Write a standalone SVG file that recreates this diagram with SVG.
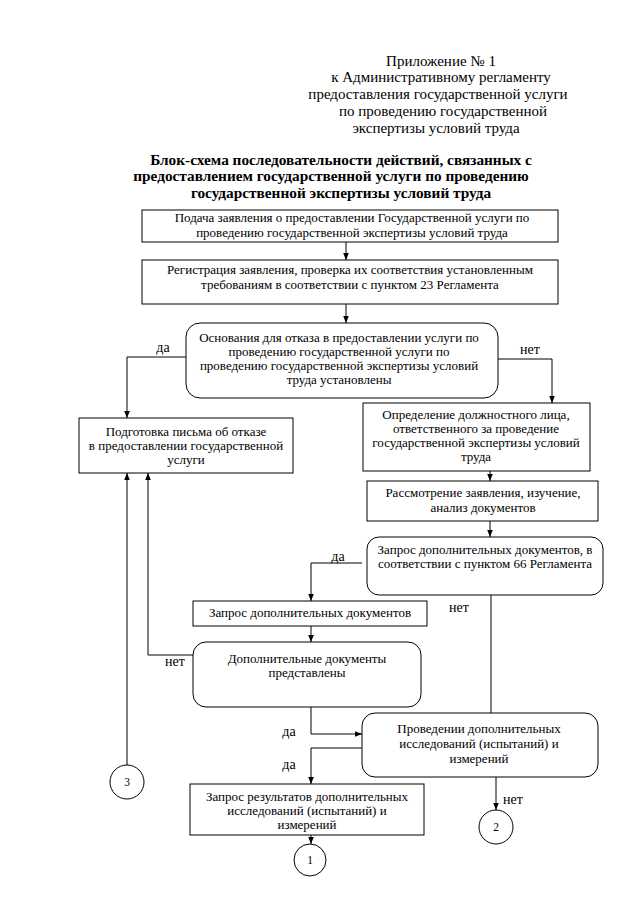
<svg xmlns="http://www.w3.org/2000/svg" width="640" height="905" viewBox="0 0 640 905" font-family="Liberation Serif, DejaVu Serif, serif">
<defs>
<style>
.b{fill:#fff;stroke:#000;stroke-width:1}
.c{fill:none;stroke:#000;stroke-width:1}
text{font-family:'Liberation Serif','DejaVu Serif',serif;fill:#000;text-anchor:middle}
.t{font-size:13px}
.h{font-size:15px}
.ti{font-size:15.3px;font-weight:bold}
.l{font-size:14px}
.n{font-size:11.5px}
</style>
<marker id="a" viewBox="0 0 8 8" refX="8" refY="4" markerWidth="7" markerHeight="7" markerUnits="userSpaceOnUse" orient="auto">
<path d="M0,0.8 L8,4 L0,7.2 Z" fill="#000"/>
</marker>
</defs>
<rect width="640" height="905" fill="#fff"/>
<g id="header">
<text class="h" x="441" y="66">Приложение № 1</text>
<text class="h" x="441" y="82">к Административному регламенту</text>
<text class="h" x="438" y="99">предоставления государственной услуги</text>
<text class="h" x="443" y="116">по проведению государственной</text>
<text class="h" x="436" y="133">экспертизы условий труда</text>
</g>
<g id="title">
<text class="ti" x="341" y="165">Блок-схема последовательности действий, связанных с</text>
<text class="ti" x="331" y="181">предоставлением государственной услуги по проведению</text>
<text class="ti" x="341" y="198">государственной экспертизы условий труда</text>
</g>
<g id="connectors">
<line class="c" x1="346" y1="242" x2="346" y2="260" marker-end="url(#a)"/>
<line class="c" x1="346" y1="304" x2="346" y2="323" marker-end="url(#a)"/>
<polyline class="c" points="186,357 127,357 127,418" marker-end="url(#a)"/>
<polyline class="c" points="498,359 552,359 552,403" marker-end="url(#a)"/>
<line class="c" x1="490" y1="471" x2="490" y2="481" marker-end="url(#a)"/>
<line class="c" x1="490" y1="521" x2="490" y2="537" marker-end="url(#a)"/>
<polyline class="c" points="362,563 311,563 311,601" marker-end="url(#a)"/>
<line class="c" x1="491" y1="595" x2="491" y2="713"/>
<line class="c" x1="311" y1="626" x2="311" y2="642" marker-end="url(#a)"/>
<polyline class="c" points="193,655 148,655 148,473" marker-end="url(#a)"/>
<line class="c" x1="127" y1="765" x2="127" y2="473" marker-end="url(#a)"/>
<polyline class="c" points="311,707 311,734 362,734" marker-end="url(#a)"/>
<polyline class="c" points="362,748 311,748 311,784" marker-end="url(#a)"/>
<line class="c" x1="311" y1="835" x2="311" y2="844" marker-end="url(#a)"/>
<line class="c" x1="496" y1="777" x2="496" y2="810" marker-end="url(#a)"/>
<text class="l" x="163" y="352">да</text>
<text class="l" x="530" y="354">нет</text>
<text class="l" x="338" y="561">да</text>
<text class="l" x="459" y="612">нет</text>
<text class="l" x="175" y="666">нет</text>
<text class="l" x="289" y="736">да</text>
<text class="l" x="289" y="769">да</text>
<text class="l" x="513" y="804">нет</text>
</g>
<g id="n1">
<rect class="b" x="142" y="210" width="416" height="32"/>
<text class="t" x="352" y="222">Подача заявления о предоставлении Государственной услуги по</text>
<text class="t" x="352" y="237">проведению государственной экспертизы условий труда</text>
</g>
<g id="n2">
<rect class="b" x="142" y="260" width="416" height="44"/>
<text class="t" x="350" y="274">Регистрация заявления, проверка их соответствия установленным</text>
<text class="t" x="350" y="289">требованиям в соответствии с пунктом 23 Регламента</text>
</g>
<g id="n3">
<rect class="b" x="186" y="323" width="312" height="75" rx="14"/>
<text class="t" x="339" y="342">Основания для отказа в предоставлении услуги по</text>
<text class="t" x="339" y="356">проведению государственной услуги по</text>
<text class="t" x="339" y="370">проведению государственной экспертизы условий</text>
<text class="t" x="339" y="384">труда установлены</text>
</g>
<g id="n4">
<rect class="b" x="79" y="418" width="214" height="55"/>
<text class="t" x="186" y="436">Подготовка письма об отказе</text>
<text class="t" x="186" y="450">в предоставлении государственной</text>
<text class="t" x="186" y="464">услуги</text>
</g>
<g id="n5">
<rect class="b" x="363" y="403" width="227" height="68"/>
<text class="t" x="476" y="419">Определение должностного лица,</text>
<text class="t" x="476" y="433">ответственного за проведение</text>
<text class="t" x="476" y="447">государственной экспертизы условий</text>
<text class="t" x="476" y="461">труда</text>
</g>
<g id="n6">
<rect class="b" x="367" y="481" width="231" height="40"/>
<text class="t" x="483" y="497">Рассмотрение заявления, изучение,</text>
<text class="t" x="483" y="512">анализ документов</text>
</g>
<g id="n7">
<rect class="b" x="367" y="537" width="236" height="58" rx="12"/>
<text class="t" x="485" y="554">Запрос дополнительных документов, в</text>
<text class="t" x="485" y="568">соответствии с пунктом 66 Регламента</text>
</g>
<g id="n8">
<rect class="b" x="193" y="601" width="234" height="25"/>
<text class="t" x="310" y="617">Запрос дополнительных документов</text>
</g>
<g id="n9">
<rect class="b" x="193" y="642" width="228" height="65" rx="13"/>
<text class="t" x="307" y="663">Дополнительные документы</text>
<text class="t" x="307" y="677">представлены</text>
</g>
<g id="n10">
<rect class="b" x="362" y="713" width="236" height="64" rx="13"/>
<text class="t" x="479" y="733">Проведении дополнительных</text>
<text class="t" x="479" y="748">исследований (испытаний)  и</text>
<text class="t" x="479" y="763">измерений</text>
</g>
<g id="n11">
<rect class="b" x="190" y="784" width="234" height="51"/>
<text class="t" x="307" y="801">Запрос результатов дополнительных</text>
<text class="t" x="307" y="815">исследований (испытаний)  и</text>
<text class="t" x="307" y="829">измерений</text>
</g>
<g id="c3">
<circle class="b" cx="127" cy="782" r="17"/>
<text class="n" x="127" y="786">3</text>
</g>
<g id="c1">
<circle class="b" cx="310" cy="860" r="16"/>
<text class="n" x="310" y="864">1</text>
</g>
<g id="c2">
<circle class="b" cx="496" cy="827" r="17"/>
<text class="n" x="496" y="831">2</text>
</g>
</svg>
